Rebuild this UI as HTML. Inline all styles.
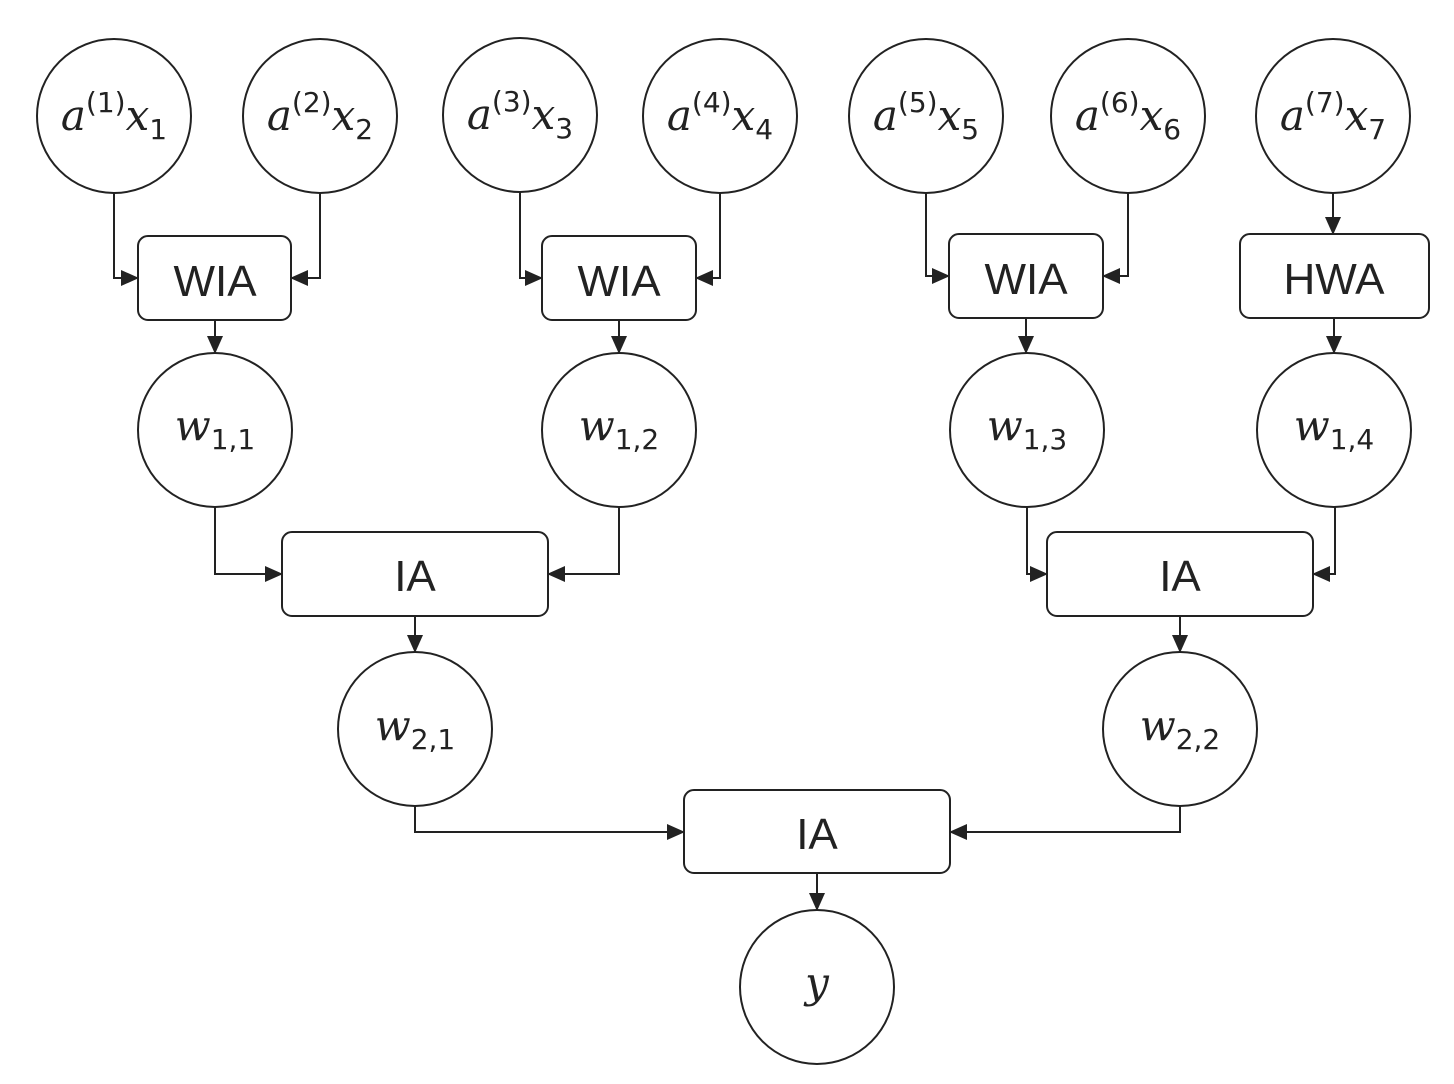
<!DOCTYPE html>
<html><head><meta charset="utf-8"><style>
html,body{margin:0;padding:0;background:#fff;}
svg{display:block;}
.m{font-family:"DejaVu Serif","Liberation Serif",serif;font-style:italic;font-size:42px;fill:#222;}
.s{font-family:"DejaVu Sans","Liberation Sans",sans-serif;font-style:normal;font-size:28px;fill:#222;}
.b{font-family:"Liberation Sans","DejaVu Sans",sans-serif;font-size:44px;fill:#222;}
</style></head><body>
<svg width="1454" height="1084" viewBox="0 0 1454 1084" xmlns="http://www.w3.org/2000/svg">
<defs><marker id="a" markerWidth="18" markerHeight="16" refX="17" refY="8" orient="auto" markerUnits="userSpaceOnUse"><path d="M0,0 L18,8 L0,16 Z" fill="#222"/></marker></defs>
<g fill="none" stroke="#222" stroke-width="2">
<circle cx="114" cy="116" r="77"/><circle cx="320" cy="116" r="77"/>
<circle cx="520" cy="115" r="77"/><circle cx="720" cy="116" r="77"/>
<circle cx="926" cy="116" r="77"/><circle cx="1128" cy="116" r="77"/>
<circle cx="1333" cy="116" r="77"/>
<rect x="138" y="236" width="153" height="84" rx="10"/>
<rect x="542" y="236" width="154" height="84" rx="10"/>
<rect x="949" y="234" width="154" height="84" rx="10"/>
<rect x="1240" y="234" width="189" height="84" rx="10"/>
<circle cx="215" cy="430" r="77"/><circle cx="619" cy="430" r="77"/>
<circle cx="1027" cy="430" r="77"/><circle cx="1334" cy="430" r="77"/>
<rect x="282" y="532" width="266" height="84" rx="10"/>
<rect x="1047" y="532" width="266" height="84" rx="10"/>
<circle cx="415" cy="729" r="77"/><circle cx="1180" cy="729" r="77"/>
<rect x="684" y="790" width="266" height="83" rx="10"/>
<circle cx="817" cy="987" r="77"/>
</g>
<g fill="none" stroke="#222" stroke-width="2" marker-end="url(#a)">
<path d="M114,193 V278 H138"/><path d="M320,193 V278 H291"/>
<path d="M520,192 V278 H542"/><path d="M720,193 V278 H696"/>
<path d="M926,193 V276 H949"/><path d="M1128,193 V276 H1103"/>
<path d="M1333,193 V234"/>
<path d="M215,320 V353"/><path d="M619,320 V353"/>
<path d="M1026,318 V353"/><path d="M1334,318 V353"/>
<path d="M215,507 V574 H282"/><path d="M619,507 V574 H548"/>
<path d="M1027,507 V574 H1047"/><path d="M1335,507 V574 H1313"/>
<path d="M415,616 V652"/><path d="M1180,616 V652"/>
<path d="M415,806 V832 H684"/><path d="M1180,806 V832 H950"/>
<path d="M817,873 V910"/>
</g>
<g text-anchor="middle">
<text x="114" y="130" class="m">a<tspan class="s" dy="-18">(1)</tspan><tspan dy="18">x</tspan><tspan class="s" dy="9">1</tspan></text>
<text x="320" y="130" class="m">a<tspan class="s" dy="-18">(2)</tspan><tspan dy="18">x</tspan><tspan class="s" dy="9">2</tspan></text>
<text x="520" y="129" class="m">a<tspan class="s" dy="-18">(3)</tspan><tspan dy="18">x</tspan><tspan class="s" dy="9">3</tspan></text>
<text x="720" y="130" class="m">a<tspan class="s" dy="-18">(4)</tspan><tspan dy="18">x</tspan><tspan class="s" dy="9">4</tspan></text>
<text x="926" y="130" class="m">a<tspan class="s" dy="-18">(5)</tspan><tspan dy="18">x</tspan><tspan class="s" dy="9">5</tspan></text>
<text x="1128" y="130" class="m">a<tspan class="s" dy="-18">(6)</tspan><tspan dy="18">x</tspan><tspan class="s" dy="9">6</tspan></text>
<text x="1333" y="130" class="m">a<tspan class="s" dy="-18">(7)</tspan><tspan dy="18">x</tspan><tspan class="s" dy="9">7</tspan></text>
<text x="215" y="296" class="b">WIA</text>
<text x="619" y="296" class="b">WIA</text>
<text x="1026" y="294" class="b">WIA</text>
<text x="1334" y="294" class="b">HWA</text>
<text x="215" y="440" class="m">w<tspan class="s" dy="9">1,1</tspan></text>
<text x="619" y="440" class="m">w<tspan class="s" dy="9">1,2</tspan></text>
<text x="1027" y="440" class="m">w<tspan class="s" dy="9">1,3</tspan></text>
<text x="1334" y="440" class="m">w<tspan class="s" dy="9">1,4</tspan></text>
<text x="415" y="591" class="b">IA</text>
<text x="1180" y="591" class="b">IA</text>
<text x="415" y="740" class="m">w<tspan class="s" dy="9">2,1</tspan></text>
<text x="1180" y="740" class="m">w<tspan class="s" dy="9">2,2</tspan></text>
<text x="817" y="849" class="b">IA</text>
<text x="817" y="997" class="m">y</text>
</g>
</svg>
</body></html>
